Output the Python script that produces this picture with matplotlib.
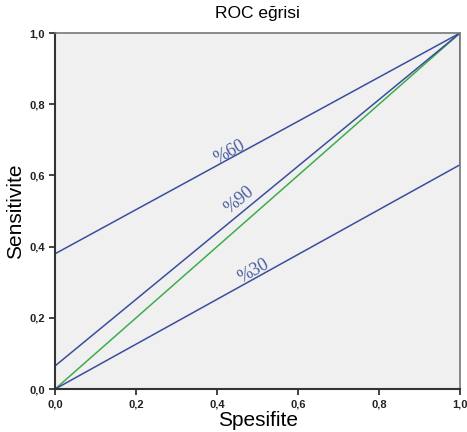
import matplotlib
matplotlib.use("Agg")
import matplotlib.pyplot as plt
from matplotlib.ticker import FuncFormatter

# ROC curves (1 - specificity on x, sensitivity on y)
x_60 = [0.0, 0.0, 1.0]
y_60 = [0.0, 0.38, 1.0]
x_90 = [0.0, 0.0, 1.0]
y_90 = [0.0, 0.065, 1.0]
x_30 = [0.0, 1.0, 1.0]
y_30 = [0.0, 0.63, 1.0]
ref_x = [0.0, 1.0]
ref_y = [0.0, 1.0]

labels = ["%60", "%90", "%30"]
label_pos = [(0.43, 0.665), (0.455, 0.53), (0.49, 0.33)]
label_rot = [28.5, 39.5, 29]

ticks = [0.0, 0.2, 0.4, 0.6, 0.8, 1.0]

blue = "#3b4e9c"
green = "#3dad4a"

plt.rcParams["font.family"] = ["Liberation Sans", "DejaVu Sans"]

fig = plt.figure(figsize=(4.67, 4.32), dpi=100)
ax = fig.add_axes([0.118, 0.0995, 0.867, 0.824])
ax.set_facecolor("#f0f0f0")

ax.plot(ref_x, ref_y, color=green, lw=1.1)
for xs, ys in [(x_60, y_60), (x_90, y_90), (x_30, y_30)]:
    ax.plot(xs, ys, color=blue, lw=1.1)

for t, (px, py), r in zip(labels, label_pos, label_rot):
    ax.text(px, py, t, rotation=r, ha="center", va="center",
            color="#4a5c9e", fontsize=13, family="Liberation Serif")

ax.set_xlim(0, 1)
ax.set_ylim(0, 1)
ax.set_xticks(ticks)
ax.set_yticks(ticks)
fmt = FuncFormatter(lambda v, p: f"{v:.1f}".replace(".", ","))
ax.xaxis.set_major_formatter(fmt)
ax.yaxis.set_major_formatter(fmt)
ax.tick_params(direction="out", length=4, width=1.2, labelsize=8, colors="#222222")
for lab in ax.get_xticklabels() + ax.get_yticklabels():
    lab.set_fontweight("bold")

for s in ["left", "bottom"]:
    ax.spines[s].set_color("#333333")
    ax.spines[s].set_linewidth(1.5)
for s in ["top", "right"]:
    ax.spines[s].set_color("#777777")
    ax.spines[s].set_linewidth(1.2)

ax.set_title("ROC eğrisi", fontsize=12.5, pad=11)
ax.set_xlabel("Spesifite", fontsize=15, labelpad=1)
ax.set_ylabel("Sensitivite", fontsize=15, labelpad=3)

fig.savefig("out.png", dpi=100)
